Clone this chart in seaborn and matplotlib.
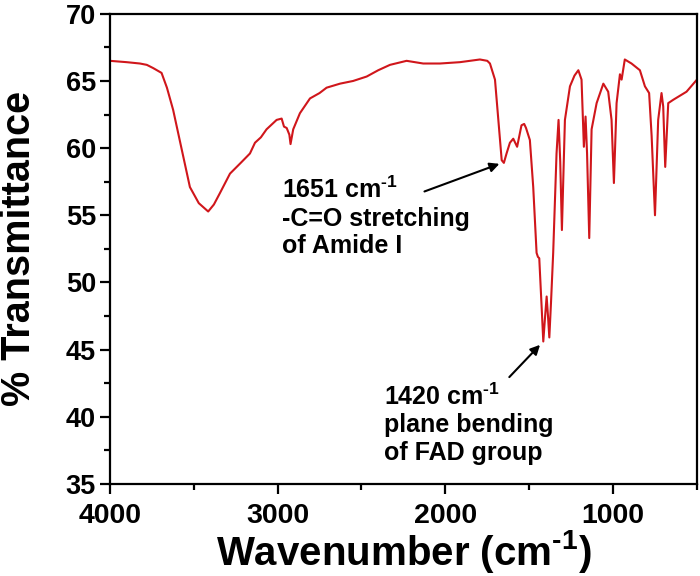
import matplotlib
matplotlib.use("Agg")
import matplotlib.pyplot as plt
from matplotlib.ticker import MultipleLocator
import pandas as pd
import seaborn as sns

# FTIR spectrum
wavenumber = [
    4000, 3900, 3821, 3780, 3742, 3692, 3660, 3623, 3570, 3523, 3470, 3414,
    3380, 3344, 3284, 3220, 3165, 3135, 3100, 3066, 3006, 2976, 2962, 2946,
    2930, 2923, 2907, 2867, 2807, 2750, 2708, 2628, 2550, 2469, 2400, 2330,
    2231, 2132, 2032, 1913, 1794, 1750, 1734, 1704, 1684, 1664, 1651, 1635,
    1615, 1595, 1572, 1546, 1530, 1519, 1496, 1476, 1456, 1448, 1440, 1426,
    1416, 1405, 1396, 1388, 1380, 1370, 1357, 1337, 1325, 1315, 1305, 1295,
    1287, 1257, 1230, 1207, 1188, 1174, 1164, 1155, 1142, 1128, 1098, 1058,
    1029, 1009, 995, 979, 959, 949, 930, 890, 840, 810, 785, 770, 750, 731,
    711, 701, 689, 671, 641, 562, 500,
]
transmittance = [
    66.5, 66.4, 66.3, 66.2, 65.96, 65.6, 64.5, 62.85, 59.8, 57.1, 55.9, 55.28,
    55.8, 56.65, 58.1, 58.9, 59.6, 60.4, 60.8, 61.4, 62.1, 62.2, 61.6, 61.5,
    61.0, 60.3, 61.4, 62.6, 63.7, 64.1, 64.5, 64.8, 65.0, 65.33, 65.8, 66.2,
    66.5, 66.3, 66.3, 66.4, 66.6, 66.5, 66.3, 65.1, 62.1, 59.1, 58.9, 59.6,
    60.4, 60.7, 60.1, 61.7, 61.8, 61.5, 60.6, 57.1, 52.2, 51.9, 51.8, 48.2,
    45.6, 47.5, 48.95, 47.5, 45.9, 48.5, 52.2, 59.6, 62.1, 59.0, 53.9, 58.5,
    62.1, 64.6, 65.4, 65.8, 65.1, 60.1, 62.35, 59.6, 53.3, 61.4, 63.35, 64.8,
    64.2, 62.1, 57.4, 63.35, 65.5, 65.1, 66.6, 66.3, 65.8, 64.6, 64.1, 60.9,
    55.0, 62.1, 64.1, 63.1, 58.6, 63.35, 63.6, 64.2, 65.1,
]

# annotated bands: label text, arrow head (wn, T), arrow tail, text anchor
SUP = "$^{\\text{-1}}$"
band_labels = ["1651 cm" + SUP + "\n-C=O stretching\nof Amide I",
               "1420 cm" + SUP + "\nplane bending\nof FAD group"]
band_heads = [(1662, 58.9), (1424, 45.5)]
band_tails = [(2140, 56.7), (1630, 42.8)]
band_text_pos = [(2975, 57.9), (2365, 42.5)]

sns.set_style("ticks")
plt.rcParams["font.family"] = ["Liberation Sans", "DejaVu Sans"]
plt.rcParams["font.weight"] = "bold"
plt.rcParams["mathtext.fontset"] = "custom"
plt.rcParams["mathtext.rm"] = "Liberation Sans:bold"
plt.rcParams["mathtext.bf"] = "Liberation Sans:bold"
for key in ["text.color", "axes.labelcolor", "xtick.color", "ytick.color",
            "axes.edgecolor"]:
    plt.rcParams[key] = "black"

df = pd.DataFrame({"wn": wavenumber, "T": transmittance})

fig = plt.figure(figsize=(7, 5.76), dpi=100)
ax = fig.add_axes([0.157, 0.16, 0.8386, 0.816])
sns.lineplot(data=df, x="wn", y="T", color="#d0161b", lw=1.5, ax=ax,
             sort=False)

ax.set_xlim(4000, 500)
ax.set_ylim(35, 70)
ax.xaxis.set_major_locator(MultipleLocator(1000))
ax.xaxis.set_minor_locator(MultipleLocator(500))
ax.yaxis.set_major_locator(MultipleLocator(5))
ax.yaxis.set_minor_locator(MultipleLocator(2.5))
ax.tick_params(which="major", length=7, width=1.6)
ax.tick_params(which="minor", length=4, width=1.6)
ax.tick_params(axis="x", which="major", labelsize=20.5, pad=7)
ax.tick_params(axis="y", which="major", labelsize=19.5, pad=3)
for lab in ax.get_xticklabels() + ax.get_yticklabels():
    lab.set_fontweight("bold")
for sp in ax.spines.values():
    sp.set_linewidth(1.6)

ax.set_xlabel("Wavenumber (cm" + SUP + ")", fontsize=29,
              fontweight="bold", labelpad=-1)
ax.set_ylabel("% Transmittance", fontsize=28.5, fontweight="bold",
              labelpad=20)

for text, head, tail, pos in zip(band_labels, band_heads, band_tails,
                                 band_text_pos):
    ax.annotate("", xy=head, xytext=tail,
                arrowprops=dict(arrowstyle="-|>", color="black", lw=1.5,
                                mutation_scale=14))
    ax.text(pos[0], pos[1], text, fontsize=18, fontweight="bold",
            ha="left", va="top", linespacing=1.2)

fig.savefig("out.png", dpi=100)
